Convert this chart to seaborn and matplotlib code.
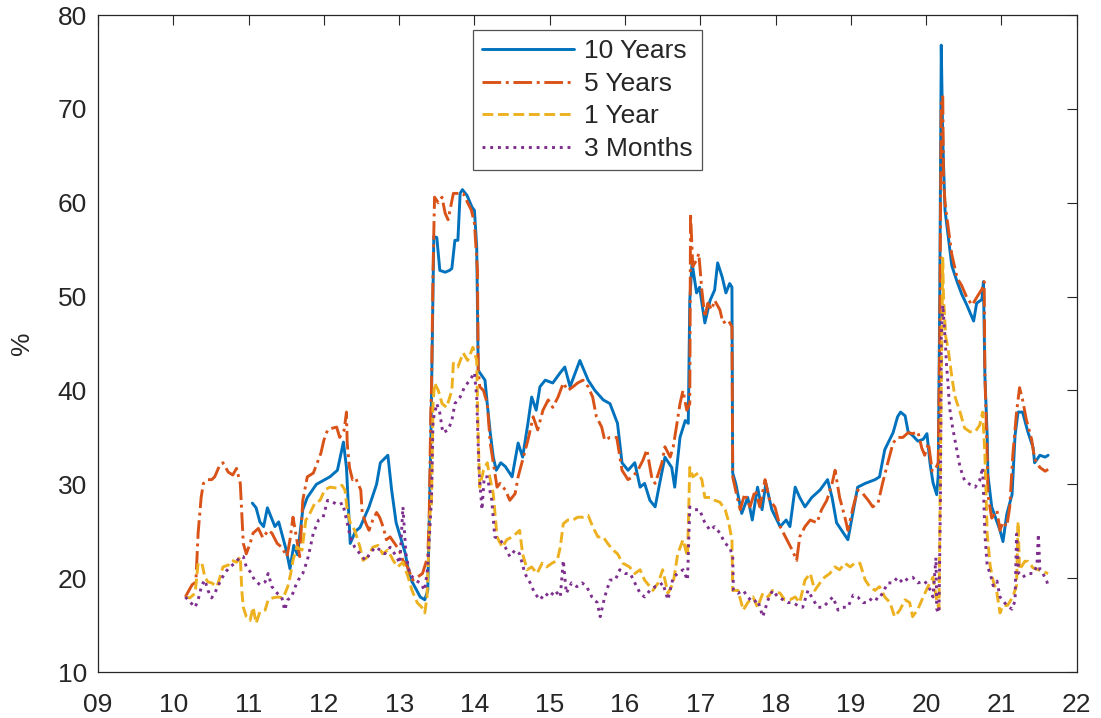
import numpy as np
import pandas as pd
import matplotlib
matplotlib.use('Agg')
import matplotlib.pyplot as plt
import seaborn as sns

# Series (x = year within 2000s, y = %)
t10_x = [11.05, 11.10, 11.15, 11.20, 11.25, 11.30, 11.35, 11.40, 11.45, 11.50, 11.55, 11.60, 11.65, 11.72, 11.78,
         11.90, 12.08, 12.18, 12.26, 12.30, 12.35, 12.42, 12.48, 12.60, 12.70, 12.75, 12.85, 12.90, 12.96, 13.08,
         13.14, 13.28, 13.34, 13.38, 13.42, 13.46, 13.50, 13.54, 13.61, 13.67, 13.70, 13.74, 13.78, 13.81, 13.84,
         13.90, 13.97, 14.00, 14.03, 14.05, 14.07, 14.14, 14.17, 14.21, 14.25, 14.29, 14.35, 14.41, 14.50, 14.58,
         14.64, 14.71, 14.76, 14.82, 14.87, 14.94, 15.04, 15.14, 15.20, 15.27, 15.40, 15.51, 15.60, 15.71, 15.80,
         15.90, 15.96, 16.04, 16.13, 16.20, 16.26, 16.33, 16.40, 16.46, 16.53, 16.62, 16.66, 16.73, 16.80, 16.84,
         16.86, 16.89, 16.95, 16.99, 17.06, 17.13, 17.19, 17.23, 17.29, 17.34, 17.39, 17.42, 17.43, 17.47, 17.55,
         17.63, 17.69, 17.76, 17.82, 17.87, 17.95, 18.06, 18.14, 18.19, 18.26, 18.32, 18.39, 18.48, 18.59, 18.69,
         18.75, 18.81, 18.96, 19.09, 19.19, 19.32, 19.38, 19.45, 19.56, 19.62, 19.66, 19.72, 19.76, 19.82, 19.89,
         19.96, 20.01, 20.05, 20.09, 20.14, 20.16, 20.18, 20.20, 20.22, 20.25, 20.29, 20.34, 20.41, 20.47, 20.54,
         20.61, 20.63, 20.67, 20.74, 20.76, 20.78, 20.81, 20.82, 20.87, 20.94, 20.98, 21.02, 21.07, 21.14, 21.18,
         21.22, 21.28, 21.35, 21.42, 21.44, 21.51, 21.58, 21.62]
t10_y = [28.0, 27.5, 26.0, 25.5, 27.5, 26.5, 25.5, 26.0, 24.5, 23.0, 21.0, 23.5, 22.5, 27.3, 28.6,
         30.0, 30.8, 31.5, 34.5, 31.8, 23.7, 25.0, 25.4, 27.6, 30.0, 32.3, 33.1, 29.4, 25.9, 22.7,
         20.1, 18.0, 17.7, 18.7, 34.0, 56.4, 56.3, 52.8, 52.6, 52.8, 53.0, 56.0, 56.0, 61.0, 61.4,
         60.8, 59.5, 59.2, 55.3, 42.2, 41.9, 41.1, 38.6, 35.5, 32.9, 31.5, 32.3, 31.9, 30.8, 34.4,
         32.9, 36.5, 39.3, 37.9, 40.4, 41.1, 40.8, 41.9, 42.5, 40.4, 43.2, 41.1, 40.0, 39.0, 38.6,
         36.5, 32.3, 31.5, 32.3, 29.7, 30.1, 28.3, 27.6, 30.1, 32.9, 31.8, 29.7, 35.0, 36.8, 36.5,
         49.6, 53.6, 50.4, 51.0, 47.2, 49.6, 50.7, 53.6, 52.1, 50.4, 51.4, 51.0, 31.2, 30.1, 26.9,
         28.6, 26.2, 29.7, 27.3, 30.1, 27.3, 25.5, 26.2, 25.5, 29.7, 28.6, 27.6, 28.6, 29.4, 30.5,
         28.6, 25.9, 24.1, 29.7, 30.1, 30.5, 30.8, 33.7, 35.5, 37.2, 37.7, 37.3, 35.6, 35.2, 34.6,
         34.8, 35.4, 32.3, 30.2, 28.9, 31.0, 49.9, 76.8, 66.7, 59.2, 56.6, 53.3, 51.6, 50.3, 49.1,
         47.8, 47.4, 49.3, 49.7, 51.6, 41.5, 35.2, 31.0, 27.6, 26.0, 25.1, 23.9, 26.8, 28.9, 35.2,
         37.7, 37.7, 35.6, 33.9, 32.3, 33.1, 32.9, 33.1]

t5_x = [10.16, 10.25, 10.30, 10.33, 10.37, 10.40, 10.45, 10.51, 10.55, 10.62, 10.66, 10.73, 10.79, 10.84, 10.89,
        10.91, 10.93, 10.97, 11.02, 11.06, 11.13, 11.19, 11.26, 11.31, 11.38, 11.44, 11.51, 11.55, 11.59, 11.64,
        11.68, 11.72, 11.78, 11.86, 11.96, 12.00, 12.05, 12.12, 12.17, 12.21, 12.27, 12.30, 12.31, 12.34, 12.38,
        12.42, 12.49, 12.51, 12.56, 12.60, 12.65, 12.70, 12.74, 12.79, 12.83, 12.88, 12.94, 13.00, 13.05, 13.11,
        13.18, 13.24, 13.31, 13.38, 13.40, 13.42, 13.43, 13.45, 13.47, 13.52, 13.57, 13.61, 13.65, 13.72, 13.78,
        13.85, 13.91, 13.96, 14.00, 14.04, 14.05, 14.07, 14.12, 14.17, 14.21, 14.25, 14.30, 14.34, 14.41, 14.47,
        14.54, 14.58, 14.64, 14.71, 14.78, 14.84, 14.91, 14.98, 15.04, 15.11, 15.18, 15.24, 15.31, 15.37, 15.44,
        15.51, 15.57, 15.62, 15.69, 15.73, 15.80, 15.89, 15.96, 16.04, 16.10, 16.17, 16.24, 16.29, 16.36, 16.40,
        16.49, 16.53, 16.60, 16.64, 16.69, 16.73, 16.77, 16.82, 16.86, 16.87, 16.90, 16.95, 16.98, 17.02, 17.06,
        17.10, 17.15, 17.19, 17.26, 17.30, 17.37, 17.42, 17.43, 17.49, 17.53, 17.59, 17.66, 17.73, 17.79, 17.86,
        17.92, 17.99, 18.06, 18.15, 18.22, 18.28, 18.32, 18.39, 18.46, 18.55, 18.61, 18.68, 18.75, 18.79, 18.85,
        18.92, 18.96, 19.03, 19.09, 19.16, 19.23, 19.29, 19.36, 19.42, 19.49, 19.56, 19.62, 19.69, 19.76, 19.82,
        19.89, 19.94, 19.98, 20.03, 20.08, 20.12, 20.16, 20.18, 20.20, 20.22, 20.23, 20.25, 20.29, 20.34, 20.41,
        20.47, 20.54, 20.61, 20.67, 20.74, 20.77, 20.78, 20.81, 20.82, 20.87, 20.94, 20.98, 21.02, 21.07, 21.11,
        21.15, 21.20, 21.24, 21.28, 21.33, 21.40, 21.44, 21.51, 21.58, 21.62]
t5_y = [18.0, 19.3, 19.6, 24.8, 28.6, 30.1, 30.5, 30.5, 30.8, 32.1, 32.3, 31.3, 31.0, 31.7, 30.1,
        26.9, 23.7, 22.6, 23.7, 24.8, 25.3, 24.3, 25.1, 24.8, 23.7, 23.3, 22.3, 24.1, 26.5, 24.1,
        22.3, 28.3, 30.8, 31.2, 33.3, 34.7, 35.8, 36.0, 36.1, 35.0, 35.8, 37.7, 34.4, 31.8, 30.5,
        30.7, 29.4, 26.9, 25.8, 25.1, 26.2, 27.0, 26.5, 25.4, 24.1, 24.4, 23.7, 23.0, 21.9, 21.2,
        19.8, 20.1, 20.5, 22.3, 26.9, 37.6, 40.4, 52.8, 60.6, 60.0, 60.6, 58.9, 58.2, 61.0, 61.0,
        61.0, 60.0, 59.2, 57.8, 52.8, 42.2, 40.4, 40.0, 38.6, 34.4, 32.3, 29.7, 30.1, 29.4, 28.3,
        29.0, 30.8, 32.6, 34.7, 37.2, 35.8, 37.9, 39.0, 38.2, 39.3, 40.8, 40.0, 40.4, 40.8, 41.1,
        40.4, 39.3, 37.2, 36.1, 34.7, 35.0, 35.0, 31.5, 30.5, 30.8, 31.5, 32.6, 33.7, 30.5, 30.1,
        32.3, 34.0, 32.9, 34.0, 36.5, 38.6, 40.0, 37.9, 38.6, 58.9, 53.2, 53.9, 54.6, 50.7, 47.8,
        49.3, 48.6, 49.6, 48.6, 47.2, 47.5, 46.8, 30.8, 28.6, 27.3, 29.0, 27.6, 29.4, 27.6, 30.5,
        28.3, 27.6, 25.5, 24.1, 23.0, 21.9, 24.4, 25.5, 26.2, 25.9, 27.3, 28.3, 30.1, 31.5, 28.6,
        26.5, 25.1, 27.6, 29.4, 29.0, 28.3, 27.6, 28.0, 30.1, 32.3, 34.4, 35.0, 35.0, 35.5, 35.4,
        35.6, 33.9, 33.1, 34.4, 31.4, 31.6, 32.3, 45.7, 70.9, 71.3, 62.5, 60.0, 57.5, 54.5, 52.0,
        51.2, 49.9, 49.1, 49.9, 50.8, 51.6, 41.5, 33.1, 28.9, 26.4, 27.2, 25.1, 26.0, 25.5, 27.6,
        33.1, 37.7, 40.3, 39.0, 36.9, 34.8, 32.7, 31.8, 31.4, 31.6]

t1_x = [10.16, 10.22, 10.29, 10.33, 10.38, 10.42, 10.46, 10.51, 10.58, 10.62, 10.66, 10.73, 10.78, 10.84, 10.89,
        10.91, 10.93, 10.97, 11.02, 11.06, 11.10, 11.15, 11.22, 11.26, 11.32, 11.39, 11.46, 11.52, 11.56, 11.59,
        11.64, 11.71, 11.76, 11.79, 11.88, 11.95, 12.01, 12.08, 12.17, 12.24, 12.28, 12.31, 12.35, 12.41, 12.48,
        12.52, 12.59, 12.65, 12.72, 12.78, 12.85, 12.92, 12.98, 13.05, 13.12, 13.17, 13.24, 13.30, 13.34, 13.37,
        13.41, 13.43, 13.45, 13.47, 13.52, 13.57, 13.63, 13.70, 13.72, 13.78, 13.85, 13.91, 13.98, 14.03, 14.05,
        14.07, 14.12, 14.17, 14.21, 14.25, 14.30, 14.37, 14.43, 14.50, 14.56, 14.60, 14.64, 14.70, 14.76, 14.83,
        14.90, 14.96, 15.03, 15.10, 15.14, 15.18, 15.24, 15.31, 15.37, 15.44, 15.51, 15.57, 15.64, 15.71, 15.77,
        15.84, 15.90, 15.97, 16.06, 16.13, 16.20, 16.26, 16.33, 16.37, 16.44, 16.50, 16.57, 16.64, 16.70, 16.77,
        16.83, 16.86, 16.90, 16.97, 17.02, 17.06, 17.13, 17.19, 17.26, 17.33, 17.37, 17.42, 17.43, 17.50, 17.57,
        17.63, 17.70, 17.76, 17.83, 17.90, 17.96, 18.06, 18.12, 18.19, 18.26, 18.32, 18.39, 18.46, 18.52, 18.59,
        18.65, 18.72, 18.79, 18.85, 18.92, 18.99, 19.05, 19.12, 19.19, 19.25, 19.32, 19.38, 19.45, 19.52, 19.58,
        19.65, 19.72, 19.78, 19.82, 19.89, 19.96, 20.03, 20.09, 20.14, 20.17, 20.19, 20.22, 20.23, 20.26, 20.29,
        20.34, 20.38, 20.45, 20.51, 20.58, 20.65, 20.71, 20.75, 20.78, 20.81, 20.85, 20.89, 20.94, 20.98, 21.02,
        21.08, 21.15, 21.20, 21.22, 21.24, 21.31, 21.35, 21.42, 21.49, 21.55, 21.62]
t1_y = [18.0, 17.9, 18.4, 21.6, 21.6, 20.1, 19.6, 19.5, 19.1, 20.1, 21.2, 21.4, 21.9, 21.7, 22.3,
        18.7, 16.9, 15.9, 15.5, 16.9, 15.2, 16.4, 16.6, 17.7, 17.9, 18.0, 17.9, 19.1, 20.5, 21.9,
        23.3, 23.0, 26.2, 26.5, 28.0, 28.3, 29.4, 29.7, 29.6, 29.9, 29.4, 27.3, 25.9, 25.1, 23.3,
        21.9, 22.3, 23.3, 23.5, 22.6, 23.0, 21.9, 21.2, 21.7, 20.1, 18.7, 17.4, 16.9, 16.3, 18.0,
        26.9, 28.0, 38.6, 40.8, 40.0, 38.6, 38.2, 40.0, 42.9, 42.5, 44.0, 43.2, 44.6, 43.2, 35.0,
        29.7, 31.5, 32.3, 30.5, 29.0, 24.4, 23.3, 24.1, 24.4, 24.8, 25.1, 22.6, 20.9, 21.2, 20.5,
        21.6, 21.2, 21.6, 21.9, 23.3, 25.8, 26.2, 26.2, 26.5, 26.5, 26.7, 25.5, 24.4, 24.4, 23.7,
        23.0, 22.6, 21.6, 21.2, 20.5, 20.9, 19.8, 19.1, 18.7, 19.5, 20.9, 18.4, 19.5, 22.6, 24.1,
        22.3, 31.8, 30.8, 31.2, 30.5, 28.6, 28.6, 28.3, 28.1, 27.3, 26.2, 24.1, 18.7, 18.7, 16.6,
        17.4, 18.0, 16.9, 18.4, 18.0, 18.7, 18.4, 17.7, 17.7, 18.0, 17.4, 19.8, 20.5, 18.7, 19.5,
        20.1, 20.5, 21.2, 20.9, 21.6, 21.2, 21.6, 21.6, 19.8, 19.1, 18.7, 19.1, 18.0, 17.4, 15.9,
        16.6, 17.7, 17.4, 15.9, 16.7, 18.0, 19.2, 20.1, 17.6, 16.7, 33.1, 54.1, 49.9, 45.7, 44.5,
        41.5, 39.4, 37.7, 36.0, 35.6, 35.6, 36.3, 37.7, 33.1, 24.7, 21.3, 19.7, 18.4, 16.3, 17.1,
        17.1, 18.0, 19.2, 26.0, 20.9, 21.8, 21.8, 21.1, 20.9, 20.7, 20.5]

t3m_x = [10.16, 10.22, 10.29, 10.33, 10.38, 10.42, 10.46, 10.51, 10.55, 10.62, 10.68, 10.75, 10.82, 10.89, 10.93,
         10.97, 11.02, 11.08, 11.15, 11.22, 11.26, 11.31, 11.38, 11.44, 11.48, 11.52, 11.57, 11.62, 11.66, 11.72,
         11.78, 11.82, 11.86, 11.93, 11.99, 12.05, 12.12, 12.19, 12.25, 12.31, 12.35, 12.41, 12.48, 12.55, 12.61,
         12.68, 12.75, 12.81, 12.88, 12.94, 13.01, 13.05, 13.09, 13.14, 13.21, 13.28, 13.34, 13.38, 13.43, 13.45,
         13.50, 13.54, 13.58, 13.65, 13.70, 13.74, 13.81, 13.87, 13.94, 14.00, 14.03, 14.06, 14.10, 14.13, 14.17,
         14.23, 14.27, 14.34, 14.41, 14.47, 14.54, 14.60, 14.67, 14.74, 14.80, 14.87, 14.94, 15.00, 15.07, 15.14,
         15.18, 15.22, 15.29, 15.36, 15.43, 15.49, 15.56, 15.63, 15.67, 15.73, 15.80, 15.87, 15.93, 16.00, 16.07,
         16.13, 16.20, 16.26, 16.33, 16.40, 16.44, 16.50, 16.57, 16.64, 16.70, 16.77, 16.83, 16.86, 16.93, 16.99,
         17.06, 17.13, 17.19, 17.26, 17.33, 17.39, 17.43, 17.44, 17.50, 17.57, 17.63, 17.70, 17.76, 17.83, 17.90,
         17.96, 18.03, 18.10, 18.16, 18.23, 18.29, 18.36, 18.43, 18.50, 18.56, 18.63, 18.69, 18.76, 18.83, 18.89,
         18.96, 19.03, 19.09, 19.16, 19.23, 19.29, 19.36, 19.42, 19.49, 19.56, 19.62, 19.69, 19.76, 19.82, 19.89,
         19.98, 20.05, 20.09, 20.13, 20.14, 20.17, 20.19, 20.20, 20.22, 20.25, 20.27, 20.29, 20.31, 20.35, 20.41,
         20.45, 20.51, 20.58, 20.65, 20.71, 20.75, 20.78, 20.81, 20.85, 20.89, 20.94, 20.98, 21.02, 21.07, 21.14,
         21.18, 21.20, 21.23, 21.28, 21.35, 21.42, 21.47, 21.49, 21.51, 21.55, 21.60, 21.62]
t3m_y = [18.0, 17.5, 16.9, 17.7, 19.3, 19.8, 18.7, 17.9, 18.4, 19.6, 20.5, 21.2, 21.6, 22.3, 22.3,
         21.2, 20.7, 19.8, 19.3, 19.6, 20.5, 19.1, 18.4, 18.0, 16.6, 17.7, 18.0, 19.1, 19.8, 20.5,
         21.9, 23.3, 24.8, 26.2, 26.5, 28.3, 28.1, 27.8, 28.0, 25.9, 24.4, 23.3, 22.6, 21.9, 22.6,
         23.3, 23.0, 22.6, 23.3, 22.6, 21.6, 27.6, 22.6, 20.5, 19.8, 19.5, 18.7, 21.2, 28.6, 36.8,
         38.6, 37.6, 35.5, 35.8, 36.8, 38.6, 39.3, 40.4, 41.1, 41.9, 39.3, 31.5, 27.3, 30.8, 30.8,
         28.3, 24.4, 24.1, 23.3, 22.3, 23.0, 22.6, 20.5, 19.5, 18.4, 17.7, 18.4, 18.0, 18.7, 18.0,
         21.9, 18.4, 19.5, 19.1, 19.5, 19.1, 18.0, 17.4, 15.9, 18.0, 19.8, 19.8, 20.9, 20.5, 20.5,
         19.5, 18.4, 18.0, 18.7, 19.1, 19.1, 19.5, 17.7, 20.1, 20.5, 20.9, 19.8, 27.6, 27.3, 27.3,
         25.9, 25.1, 25.5, 24.8, 23.7, 23.3, 22.3, 18.7, 18.4, 18.7, 18.0, 17.4, 17.7, 15.9, 17.7,
         18.7, 18.0, 17.7, 17.4, 17.4, 17.1, 16.9, 18.7, 17.7, 16.9, 16.9, 17.4, 18.0, 16.6, 16.9,
         16.9, 18.2, 18.0, 17.4, 17.4, 18.0, 17.7, 18.4, 19.5, 19.5, 20.1, 19.5, 20.0, 20.1, 19.5,
         19.7, 18.8, 18.0, 22.2, 16.7, 16.3, 28.9, 45.7, 49.1, 45.7, 42.7, 40.7, 38.2, 36.1, 33.5,
         31.8, 30.4, 30.0, 29.7, 30.4, 31.8, 24.7, 21.3, 20.5, 19.2, 19.7, 18.0, 17.6, 17.1, 16.7,
         17.6, 24.7, 20.5, 20.1, 20.5, 20.5, 21.3, 24.7, 20.9, 20.5, 19.7, 19.2]

labels = ['10 Years', '5 Years', '1 Year', '3 Months']
colors = ['#0072BD', '#D95319', '#EDB120', '#7E2F8E']
styles = ['-', '-.', '--', ':']

sns.set_theme(style='white')
plt.rcParams['font.family'] = ['Liberation Sans', 'DejaVu Sans']

fig = plt.figure(figsize=(11.01, 7.18), dpi=100)
ax = fig.add_axes([0.089, 0.064, 0.889, 0.915])

series = [(t10_x, t10_y), (t5_x, t5_y), (t1_x, t1_y), (t3m_x, t3m_y)]
for (xs, ys), lab, col, ls in zip(series, labels, colors, styles):
    df = pd.DataFrame({'year': xs, 'pct': ys})
    sns.lineplot(data=df, x='year', y='pct', ax=ax, color=col, linestyle=ls,
                 linewidth=2.1, label=lab, estimator=None, sort=False)

ax.set_xlim(9, 22)
ax.set_ylim(10, 80)
ax.set_xticks(range(9, 23))
ax.set_xticklabels(['%02d' % v for v in range(9, 23)])
ax.set_yticks(range(10, 81, 10))
ax.set_xlabel('')
ax.set_ylabel('%', fontsize=19, labelpad=17)

ax.tick_params(axis='both', direction='in', top=True, right=True, length=7,
               width=0.8, labelsize=19, colors='#262626')
ax.tick_params(axis='x', pad=15)
ax.tick_params(axis='y', pad=8)
for sp in ax.spines.values():
    sp.set_color('#262626')
    sp.set_linewidth(0.9)

leg = ax.legend(loc='upper left', bbox_to_anchor=(0.383, 0.977), fontsize=19,
                frameon=True, fancybox=False, handlelength=3.5, handletextpad=0.35,
                borderpad=0.35, labelspacing=0.32, borderaxespad=0)
leg.get_frame().set_edgecolor('#262626')
leg.get_frame().set_linewidth(0.9)

fig.savefig('out.png', dpi=100)
